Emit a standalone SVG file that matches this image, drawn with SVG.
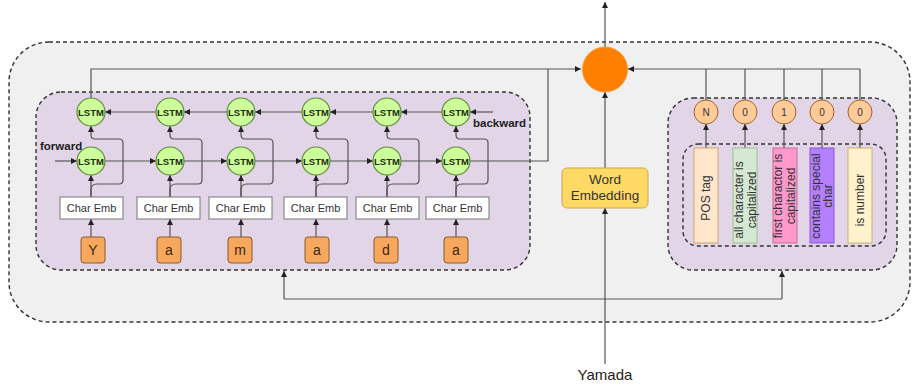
<svg xmlns="http://www.w3.org/2000/svg" width="913" height="385" viewBox="0 0 913 385">
  <defs>
    <marker id="arr" markerWidth="6" markerHeight="6" refX="6" refY="3" orient="auto" markerUnits="userSpaceOnUse">
      <path d="M0,0 L6,3 L0,6 z" fill="#222"/>
    </marker>
    <style>
      text { font-family: "Liberation Sans", Arial, sans-serif; }
      .frame { stroke: #333; stroke-width: 1.4; stroke-dasharray: 4 3; }
      .outer { fill: #f0f0f0; }
      .group { fill: #e1d5e7; }
      .line { fill: none; stroke: #555; stroke-width: 1.2; }
      .arrow { fill: none; stroke: #555; stroke-width: 1.2; marker-end: url(#arr); }
      .lstm circle { fill: #ccff99; stroke: #5d8a3a; stroke-width: 1.2; }
      .lstm text { font-size: 9.5px; font-weight: bold; fill: #1f2b12; text-anchor: middle; }
      .emb rect { fill: #ffffff; stroke: #777; stroke-width: 1; }
      .emb text { font-size: 11px; fill: #333; text-anchor: middle; }
      .ch rect { fill: #f8a85c; stroke: #8a5a2e; stroke-width: 1; }
      .ch text { font-size: 14px; fill: #3a2612; text-anchor: middle; }
      .flag circle { fill: #ffcc99; stroke: #a0642a; stroke-width: 1; }
      .flag text { font-size: 10px; fill: #333; text-anchor: middle; }
      .feat text { font-size: 12px; fill: #333; text-anchor: middle; }
      .lbl { font-size: 11.5px; font-weight: bold; fill: #222; }
    </style>
  </defs>

  <!-- containers -->
  <g id="outer-frame">
    <rect class="outer frame" x="9" y="42" width="901" height="280" rx="40"/>
  </g>
  <g id="char-bilstm">
    <rect class="group frame" x="36" y="92" width="494" height="178" rx="25"/>
  </g>
  <g id="feature-block">
    <rect class="group frame" x="668" y="98" width="229" height="172" rx="25"/>
    <rect class="group frame" x="683" y="144" width="203" height="102" rx="15"/>
  </g>

  <!-- connectors -->
  <g id="connectors">
    <!-- character inputs into Char Emb -->
    <path class="arrow" d="M91 237 V219"/>
    <path class="arrow" d="M170 237 V219"/>
    <path class="arrow" d="M241 237 V219"/>
    <path class="arrow" d="M316 237 V219"/>
    <path class="arrow" d="M387 237 V219"/>
    <path class="arrow" d="M456 237 V219"/>

    <!-- Char Emb to forward LSTM -->
    <path class="arrow" d="M91 197 V175"/>
    <path class="arrow" d="M170 197 V175"/>
    <path class="arrow" d="M241 197 V175"/>
    <path class="arrow" d="M316 197 V175"/>
    <path class="arrow" d="M387 197 V175"/>
    <path class="arrow" d="M456 197 V175"/>

    <!-- Char Emb to backward LSTM (routed around the forward cell) -->
    <path class="arrow" d="M91 197 V190 Q91 184 97 184 H119 Q123 184 123 180 V143 Q123 139 119 139 H95 Q91 139 91 135 V126"/>
    <path class="arrow" d="M170 197 V190 Q170 184 176 184 H198 Q202 184 202 180 V143 Q202 139 198 139 H174 Q170 139 170 135 V126"/>
    <path class="arrow" d="M241 197 V190 Q241 184 247 184 H269 Q273 184 273 180 V143 Q273 139 269 139 H245 Q241 139 241 135 V126"/>
    <path class="arrow" d="M316 197 V190 Q316 184 322 184 H344 Q348 184 348 180 V143 Q348 139 344 139 H320 Q316 139 316 135 V126"/>
    <path class="arrow" d="M387 197 V190 Q387 184 393 184 H415 Q419 184 419 180 V143 Q419 139 415 139 H391 Q387 139 387 135 V126"/>
    <path class="arrow" d="M456 197 V190 Q456 184 462 184 H484 Q488 184 488 180 V143 Q488 139 484 139 H460 Q456 139 456 135 V126"/>

    <!-- forward chain -->
    <path class="arrow" d="M55 161 H77"/>
    <path class="arrow" d="M105 161 H156"/>
    <path class="arrow" d="M184 161 H227"/>
    <path class="arrow" d="M255 161 H302"/>
    <path class="arrow" d="M330 161 H373"/>
    <path class="arrow" d="M401 161 H442"/>

    <!-- backward chain -->
    <path class="arrow" d="M493 112 H470"/>
    <path class="arrow" d="M442 112 H401"/>
    <path class="arrow" d="M373 112 H330"/>
    <path class="arrow" d="M302 112 H255"/>
    <path class="arrow" d="M227 112 H184"/>
    <path class="arrow" d="M156 112 H105"/>

    <!-- BiLSTM outputs to the merge node -->
    <path class="line" d="M470 161 H548 V69"/>
    <path class="arrow" d="M91 98 V69 H581"/>

    <!-- feature flags to the merge node -->
    <path class="line" d="M706 100 V69"/>
    <path class="line" d="M745 100 V69"/>
    <path class="line" d="M784 100 V69"/>
    <path class="line" d="M822 100 V69"/>
    <path class="line" d="M860 100 V69"/>
    <path class="arrow" d="M860 69 H628"/>

    <!-- feature boxes to flags -->
    <path class="arrow" d="M706 148 V124"/>
    <path class="arrow" d="M745 148 V124"/>
    <path class="arrow" d="M784 148 V124"/>
    <path class="arrow" d="M822 148 V124"/>
    <path class="arrow" d="M860 148 V124"/>

    <!-- input word -->
    <path class="arrow" d="M605 364 V208"/>
    <path class="line" d="M284 299 H782"/>
    <path class="arrow" d="M284 299 V271"/>
    <path class="arrow" d="M782 299 V271"/>

    <!-- word embedding to merge, merge to output -->
    <path class="arrow" d="M605 168 V92"/>
    <path class="arrow" d="M605 47 V2"/>
  </g>

  <!-- labels -->
  <text class="lbl" x="40" y="150">forward</text>
  <text class="lbl" x="473" y="127">backward</text>

  <!-- backward LSTM row -->
  <g id="lstm-b1" class="lstm"><circle cx="91" cy="112" r="14"/><text x="91" y="115.5">LSTM</text></g>
  <g id="lstm-b2" class="lstm"><circle cx="170" cy="112" r="14"/><text x="170" y="115.5">LSTM</text></g>
  <g id="lstm-b3" class="lstm"><circle cx="241" cy="112" r="14"/><text x="241" y="115.5">LSTM</text></g>
  <g id="lstm-b4" class="lstm"><circle cx="316" cy="112" r="14"/><text x="316" y="115.5">LSTM</text></g>
  <g id="lstm-b5" class="lstm"><circle cx="387" cy="112" r="14"/><text x="387" y="115.5">LSTM</text></g>
  <g id="lstm-b6" class="lstm"><circle cx="456" cy="112" r="14"/><text x="456" y="115.5">LSTM</text></g>

  <!-- forward LSTM row -->
  <g id="lstm-f1" class="lstm"><circle cx="91" cy="161" r="14"/><text x="91" y="164.5">LSTM</text></g>
  <g id="lstm-f2" class="lstm"><circle cx="170" cy="161" r="14"/><text x="170" y="164.5">LSTM</text></g>
  <g id="lstm-f3" class="lstm"><circle cx="241" cy="161" r="14"/><text x="241" y="164.5">LSTM</text></g>
  <g id="lstm-f4" class="lstm"><circle cx="316" cy="161" r="14"/><text x="316" y="164.5">LSTM</text></g>
  <g id="lstm-f5" class="lstm"><circle cx="387" cy="161" r="14"/><text x="387" y="164.5">LSTM</text></g>
  <g id="lstm-f6" class="lstm"><circle cx="456" cy="161" r="14"/><text x="456" y="164.5">LSTM</text></g>

  <!-- character embeddings -->
  <g id="emb-1" class="emb"><rect x="60" y="197" width="63" height="22"/><text x="91.5" y="212">Char Emb</text></g>
  <g id="emb-2" class="emb"><rect x="137" y="197" width="63" height="22"/><text x="168.5" y="212">Char Emb</text></g>
  <g id="emb-3" class="emb"><rect x="209" y="197" width="63" height="22"/><text x="240.5" y="212">Char Emb</text></g>
  <g id="emb-4" class="emb"><rect x="284" y="197" width="63" height="22"/><text x="315.5" y="212">Char Emb</text></g>
  <g id="emb-5" class="emb"><rect x="356" y="197" width="63" height="22"/><text x="387.5" y="212">Char Emb</text></g>
  <g id="emb-6" class="emb"><rect x="426" y="197" width="63" height="22"/><text x="457.5" y="212">Char Emb</text></g>

  <!-- characters -->
  <g id="char-1" class="ch"><rect x="81" y="237" width="24" height="26" rx="3"/><text x="93" y="255">Y</text></g>
  <g id="char-2" class="ch"><rect x="157" y="237" width="24" height="26" rx="3"/><text x="169" y="255">a</text></g>
  <g id="char-3" class="ch"><rect x="228" y="237" width="24" height="26" rx="3"/><text x="240" y="255">m</text></g>
  <g id="char-4" class="ch"><rect x="305" y="237" width="24" height="26" rx="3"/><text x="317" y="255">a</text></g>
  <g id="char-5" class="ch"><rect x="374" y="237" width="24" height="26" rx="3"/><text x="386" y="255">d</text></g>
  <g id="char-6" class="ch"><rect x="444" y="237" width="24" height="26" rx="3"/><text x="456" y="255">a</text></g>

  <!-- merge node -->
  <g id="merge">
    <circle cx="605" cy="69.5" r="22.5" fill="#ff8000" stroke="#f39a3c" stroke-width="1"/>
  </g>

  <!-- word embedding -->
  <g id="word-embedding">
    <rect x="562" y="168" width="86" height="40" rx="5" fill="#ffd966" stroke="#c9a84a" stroke-width="1"/>
    <text x="605" y="184" font-size="13.5" fill="#333" text-anchor="middle">Word</text>
    <text x="605" y="200" font-size="13.5" fill="#333" text-anchor="middle">Embedding</text>
  </g>

  <!-- input word -->
  <g id="word-input">
    <text x="605" y="380" font-size="15" fill="#222" text-anchor="middle">Yamada</text>
  </g>

  <!-- feature flags -->
  <g id="flag-pos" class="flag"><circle cx="706" cy="112" r="12"/><text x="706" y="115.5">N</text></g>
  <g id="flag-allcap" class="flag"><circle cx="745" cy="112" r="12"/><text x="745" y="115.5">0</text></g>
  <g id="flag-firstcap" class="flag"><circle cx="784" cy="112" r="12"/><text x="784" y="115.5">1</text></g>
  <g id="flag-special" class="flag"><circle cx="822" cy="112" r="12"/><text x="822" y="115.5">0</text></g>
  <g id="flag-number" class="flag"><circle cx="860" cy="112" r="12"/><text x="860" y="115.5">0</text></g>

  <!-- feature boxes -->
  <g id="feat-pos" class="feat">
    <rect x="694" y="148" width="24" height="95" fill="#ffe6cc" stroke="#d4a366"/>
    <text transform="translate(710 198) rotate(-90)">POS tag</text>
  </g>
  <g id="feat-allcap" class="feat">
    <rect x="733" y="148" width="24" height="95" fill="#d5e8d4" stroke="#9cc08e"/>
    <text transform="translate(743 200) rotate(-90)">all character is</text>
    <text transform="translate(755.5 200) rotate(-90)">capitalized</text>
  </g>
  <g id="feat-firstcap" class="feat">
    <rect x="773" y="148" width="24" height="95" fill="#ff99cc" stroke="#c86a9a"/>
    <text transform="translate(782 196) rotate(-90)">first charactor is</text>
    <text transform="translate(795 196) rotate(-90)">capitalized</text>
  </g>
  <g id="feat-special" class="feat">
    <rect x="810" y="148" width="24" height="95" fill="#b580ff" stroke="#8a5ad0"/>
    <text transform="translate(819.5 196) rotate(-90)">contains special</text>
    <text transform="translate(832 196) rotate(-90)">char</text>
  </g>
  <g id="feat-number" class="feat">
    <rect x="848" y="148" width="24" height="95" fill="#fff2cc" stroke="#cdb46a"/>
    <text transform="translate(864 200) rotate(-90)">is number</text>
  </g>
</svg>
